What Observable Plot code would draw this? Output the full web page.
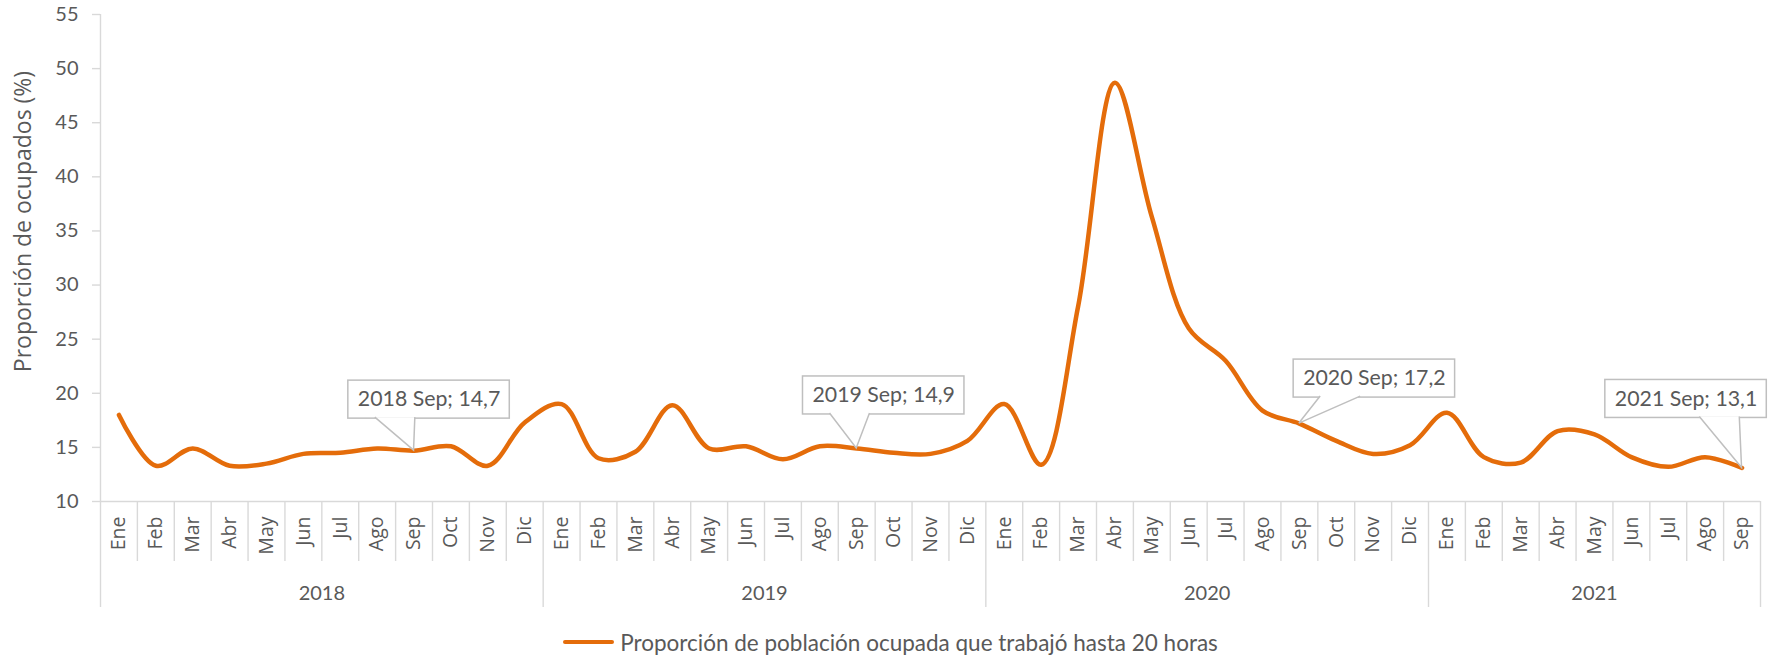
<!DOCTYPE html>
<html>
<head>
<meta charset="utf-8">
<script src="https://cdn.jsdelivr.net/npm/d3@7"></script>
<script src="https://cdn.jsdelivr.net/npm/@observablehq/plot@0.6"></script>
<style>
  html, body { margin: 0; padding: 0; background: #fff; }
  #chart svg { display: block; }
  #chart [aria-label="y-axis tick"] path, #chart [aria-label="y-axis tick"] line { stroke: #D9D9D9; stroke-width: 1.4px; }
  #legend { height: 28px; display: flex; justify-content: center; align-items: center;
    font-family: Lato, sans-serif; font-size: 22.5px; color: #595959; }
  #legend .sw { width: 51px; height: 4.5px; background: #E46C0A; border-radius: 2px; margin-right: 6px; }
</style>
</head>
<body>
<div id="chart"></div>
<div id="legend"><span class="sw"></span><span id="legendText"></span></div>
<script>
// ---- data ----
const months = ["Ene","Feb","Mar","Abr","May","Jun","Jul","Ago","Sep","Oct","Nov","Dic"];
const years = [2018, 2019, 2020, 2021];
const values2018 = [18.0, 13.3, 14.9, 13.3, 13.5, 14.4, 14.5, 14.9, 14.7, 15.1, 13.3, 17.3];
const values2019 = [19.0, 14.0, 14.6, 18.9, 14.9, 15.1, 13.9, 15.1, 14.9, 14.5, 14.4, 15.6];
const values2020 = [19.0, 13.4, 28.0, 48.7, 36.3, 26.0, 23.0, 18.4, 17.2, 15.6, 14.4, 15.2];
const values2021 = [18.2, 14.1, 13.6, 16.5, 16.2, 14.1, 13.2, 14.1, 13.1];
const yTicks = [10, 15, 20, 25, 30, 35, 40, 45, 50, 55];
const seriesName = "Proporción de población ocupada que trabajó hasta 20 horas";
const yTitle = "Proporción de ocupados (%)";
const calloutMonth = "Sep";

// ---- build table ----
const yearValues = [values2018, values2019, values2020, values2021];
const rows = [];
yearValues.forEach((vals, yi) => vals.forEach((v, mi) => rows.push({i: rows.length, year: years[yi], month: months[mi], value: v})));
const n = rows.length;

const yearGroups = years.map((y) => {
  const r = rows.filter(d => d.year === y);
  return {year: String(y), start: r[0].i - 0.5, end: r[r.length - 1].i + 0.5, center: (r[0].i + r[r.length - 1].i) / 2};
});
const yearBounds = [...new Set(yearGroups.flatMap(g => [g.start, g.end]))];
const monthBounds = d3.range(1, n).map(k => k - 0.5).filter(b => !yearBounds.includes(b));

const fmt = v => v.toFixed(1).replace(".", ",");
const calloutRows = rows.filter(d => d.month === calloutMonth);
// layout offsets (px) of each callout box centre from its point
const calloutOffsets = [[15, -51], [27, -53], [75, -45], [-56, -69]];
const callouts = calloutRows.map((d, k) => ({...d, label: `${d.year} ${d.month}; ${fmt(d.value)}`, dx: calloutOffsets[k][0], dy: calloutOffsets[k][1]}));

// ---- style ----
const ORANGE = "#E46C0A", GRID = "#D9D9D9", TEXT = "#595959";
const H = 628, MT = 14, MB = 127;
const frameH = H - MT - MB;

const chart = Plot.plot({
  width: 1781, height: H,
  marginLeft: 100, marginRight: 21, marginTop: MT, marginBottom: MB,
  x: {type: "linear", domain: [-0.5, n - 0.5], axis: null},
  y: {domain: [10, 55], ticks: yTicks, tickSize: 8, tickPadding: 14, tickFormat: d => String(d), label: null},
  style: {fontFamily: "Lato, sans-serif", fontSize: "20px", background: "white", color: TEXT},
  marks: [
    Plot.ruleY([10], {stroke: GRID, strokeWidth: 1.4}),
    Plot.ruleX([-0.5], {stroke: GRID, strokeWidth: 1.4}),
    Plot.ruleX(monthBounds, {stroke: GRID, strokeWidth: 1.4, insetTop: frameH, insetBottom: -60}),
    Plot.ruleX(yearBounds, {stroke: GRID, strokeWidth: 1.4, insetTop: frameH, insetBottom: -106}),
    Plot.text(rows, {x: "i", text: "month", frameAnchor: "bottom", rotate: -90, textAnchor: "end", lineAnchor: "middle",
      dy: 15, fontFamily: "'Open Sans', sans-serif", fontSize: 19.5, fill: TEXT}),
    Plot.text(yearGroups, {x: "center", text: "year", frameAnchor: "bottom", lineAnchor: "middle", dy: 92, fontSize: 20, fill: TEXT}),
    Plot.text([yTitle], {frameAnchor: "top-left", rotate: -90, textAnchor: "middle", lineAnchor: "middle", dx: -77, dy: 207,
      fontFamily: "'Open Sans', sans-serif", fontSize: 23, fill: TEXT}),
    Plot.line(rows, {x: "i", y: "value", curve: "catmull-rom", stroke: ORANGE, strokeWidth: 4.5, strokeLinecap: "round", strokeLinejoin: "round"}),
    ...callouts.map(c => Plot.text([c], {x: "i", y: "value", text: "label", dx: c.dx, dy: c.dy, lineAnchor: "middle", textAnchor: "middle", fontSize: 21.3, fill: TEXT}))
  ]
});

document.getElementById("chart").append(chart);
document.getElementById("legendText").textContent = seriesName;

// ---- callout boxes and pointers, placed with the plot's own scales ----
const sx = chart.scale("x"), sy = chart.scale("y");
const ns = "http://www.w3.org/2000/svg";
const allTexts = Array.from(chart.querySelectorAll("text"));
callouts.forEach(c => {
  const el = allTexts.find(t => t.textContent === c.label);
  if (!el) return;
  const tw = el.getBoundingClientRect().width;
  const px = sx.apply(c.i), py = sy.apply(c.value);
  const cx = px + c.dx, cy = py + c.dy;
  const w = tw + 19, h = 38;
  const left = cx - w / 2, top = cy - h / 2, bottom = cy + h / 2;
  const g = document.createElementNS(ns, "g");
  const rect = document.createElementNS(ns, "rect");
  rect.setAttribute("x", left); rect.setAttribute("y", top);
  rect.setAttribute("width", w); rect.setAttribute("height", h);
  rect.setAttribute("fill", "white"); rect.setAttribute("stroke", "#BFBFBF"); rect.setAttribute("stroke-width", 1.5);
  g.append(rect);
  const b = px < cx ? [left + 27, left + 67] : [left + w - 67, left + w - 27];
  const p = document.createElementNS(ns, "path");
  p.setAttribute("d", `M${b[0]},${bottom - 1}L${px},${py}L${b[1]},${bottom - 1}`);
  p.setAttribute("fill", "white"); p.setAttribute("stroke", "#BFBFBF"); p.setAttribute("stroke-width", 1.5);
  g.append(p);
  el.parentNode.parentNode.insertBefore(g, el.parentNode);
});
</script>
</body>
</html>
